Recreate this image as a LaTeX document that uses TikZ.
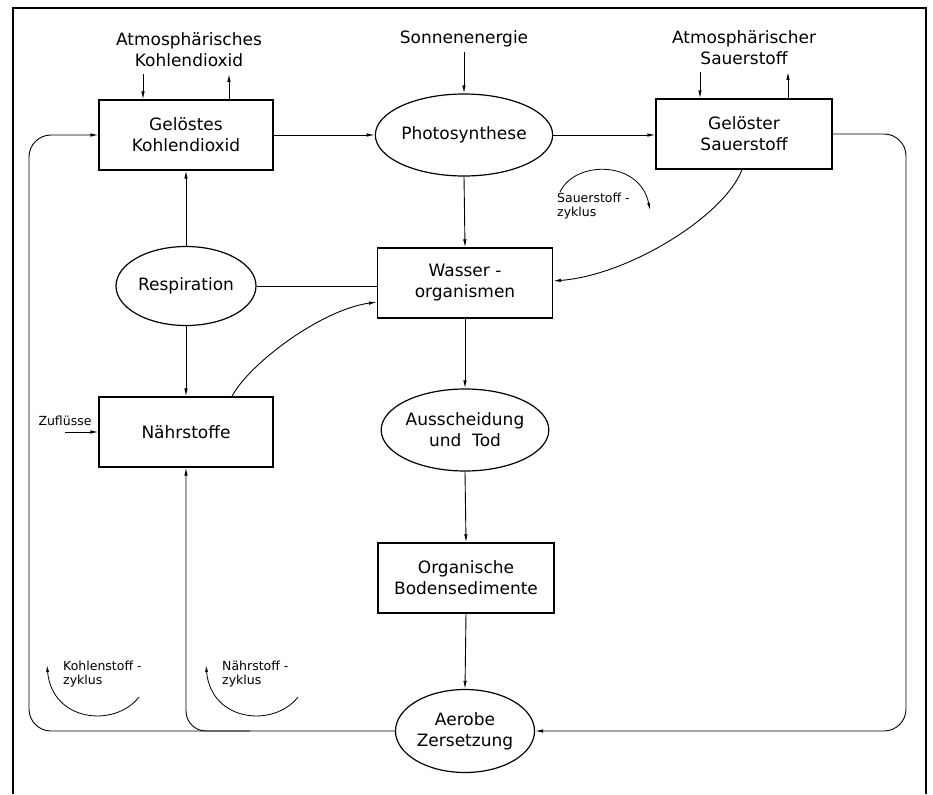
\documentclass[tikz,border=0pt]{standalone}
\usepackage{fontspec}
\setmainfont{DejaVu Sans}
\usetikzlibrary{arrows.meta,shapes.geometric,calc}
\begin{document}
\begin{tikzpicture}[x=1pt,y=-1pt,
  every node/.style={font=\fontsize{17}{21}\selectfont, align=center, inner sep=0pt},
  boxnode/.style={draw, line width=1.2pt, minimum width=174pt, minimum height=70pt},
  ellnode/.style={draw, ellipse, line width=1.2pt, minimum width=141pt, minimum height=81pt},
  conn/.style={line width=0.9pt, -{Latex[length=8pt,width=3.5pt]}},
  lineonly/.style={line width=0.9pt},
  small/.style={font=\fontsize{12.5}{14}\selectfont, align=left},
  cyc/.style={line width=0.8pt, -{Latex[length=7pt,width=3pt]}}
]
\useasboundingbox (0,0) rectangle (933,794);
% frame
\draw[line width=1.2pt] (13,794) -- (13,8) -- (926,8) -- (926,794);

% nodes
\node[boxnode] (gk) at (186,135) {Gelöstes\\Kohlendioxid};
\node[ellnode, minimum width=142pt, minimum height=82pt] (photo) at (464,135) {Photosynthese};
\node[boxnode, minimum width=176pt] (gs) at (744,134) {Gelöster\\Sauerstoff};
\node (atmc) at (189,50) {Atmosphärisches\\Kohlendioxid};
\node (sonne) at (464,39) {Sonnenenergie};
\node (atmo) at (744,48) {Atmosphärischer\\Sauerstoff};
\node[ellnode, minimum width=140pt, minimum height=79pt] (resp) at (186,286) {Respiration};
\node[boxnode, minimum width=175pt] (wasser) at (465,283) {Wasser -\\organismen};
\node[boxnode] (naehr) at (186,432) {Nährstoffe};
\node[ellnode, minimum width=140pt, minimum height=82pt] (aus) at (465,430) {Ausscheidung\\und~~Tod};
\node[boxnode, minimum width=176pt] (org) at (466,578) {Organische\\Bodensedimente};
\node[ellnode, minimum width=139pt, minimum height=83pt] (aer) at (465,731) {Aerobe\\Zersetzung};

\node[small] (zu) at (65,421) {Zuflüsse};
\node[small, anchor=west] (szy) at (557,206) {Sauerstoff -\\zyklus};
\node[small, anchor=west] (kzy) at (63,674) {Kohlenstoff -\\zyklus};
\node[small, anchor=west] (nzy) at (222,674) {Nährstoff -\\zyklus};

% atmosphere exchange
\coordinate (c1) at (143,74);
\coordinate (c2) at (229,74);
\draw[conn] (c1) -- (c1 |- gk.north);
\draw[conn] (c2 |- gk.north) -- (c2);
\coordinate (s1) at (464,52);
\draw[conn] (s1) -- (photo.north);
\coordinate (o1) at (700,72);
\coordinate (o2) at (788,72);
\draw[conn] (o1) -- (o1 |- gs.north);
\draw[conn] (o2 |- gs.north) -- (o2);

% main flows
\draw[conn] (gk.east) -- (photo.west);
\draw[conn] (photo.east) -- (photo.east -| gs.west);
\draw[conn] (photo.south) -- (wasser.north);
\draw[conn] (resp.north) -- (gk.south);
\draw[lineonly] (resp.east) -- (resp.east -| wasser.west);
\draw[conn] (resp.south) -- (naehr.north);
\draw[conn] ($(naehr.north)+(46,0)$) .. controls (248,365) and (320,310) .. ($(wasser.west)+(0,19)$);
\draw[conn] ($(gs.south)+(-2,0)$) .. controls (725,215) and (630,275) .. ($(wasser.east)+(0,-2)$);
\draw[conn] (wasser.south) -- (aus.north);
\draw[conn] (aus.south) -- (org.north);
\draw[conn] (org.south) -- (aer.north);

% loops
\draw[conn, rounded corners=22pt] (aer.west) -- (29,731) -- (29,135) -- (gk.west);
\coordinate (nb) at (250,731);
\draw[conn, rounded corners=20pt] (nb) -- (186,731) -- (naehr.south);
\draw[conn, rounded corners=22pt] (gs.east) -- (906,134) -- (906,731) -- (aer.east);

% inflow
\coordinate (zin) at (65,432);
\draw[conn] (zin) -- (zin -| naehr.west);

% cycle arcs
\draw[cyc] (560,192) .. controls (575,160) and (640,160) .. (650,210);
\draw[cyc] (139,697) .. controls (115,728) and (52,722) .. (47,665);
\draw[cyc] (298,697) .. controls (274,728) and (211,722) .. (206,665);
\end{tikzpicture}
\end{document}
